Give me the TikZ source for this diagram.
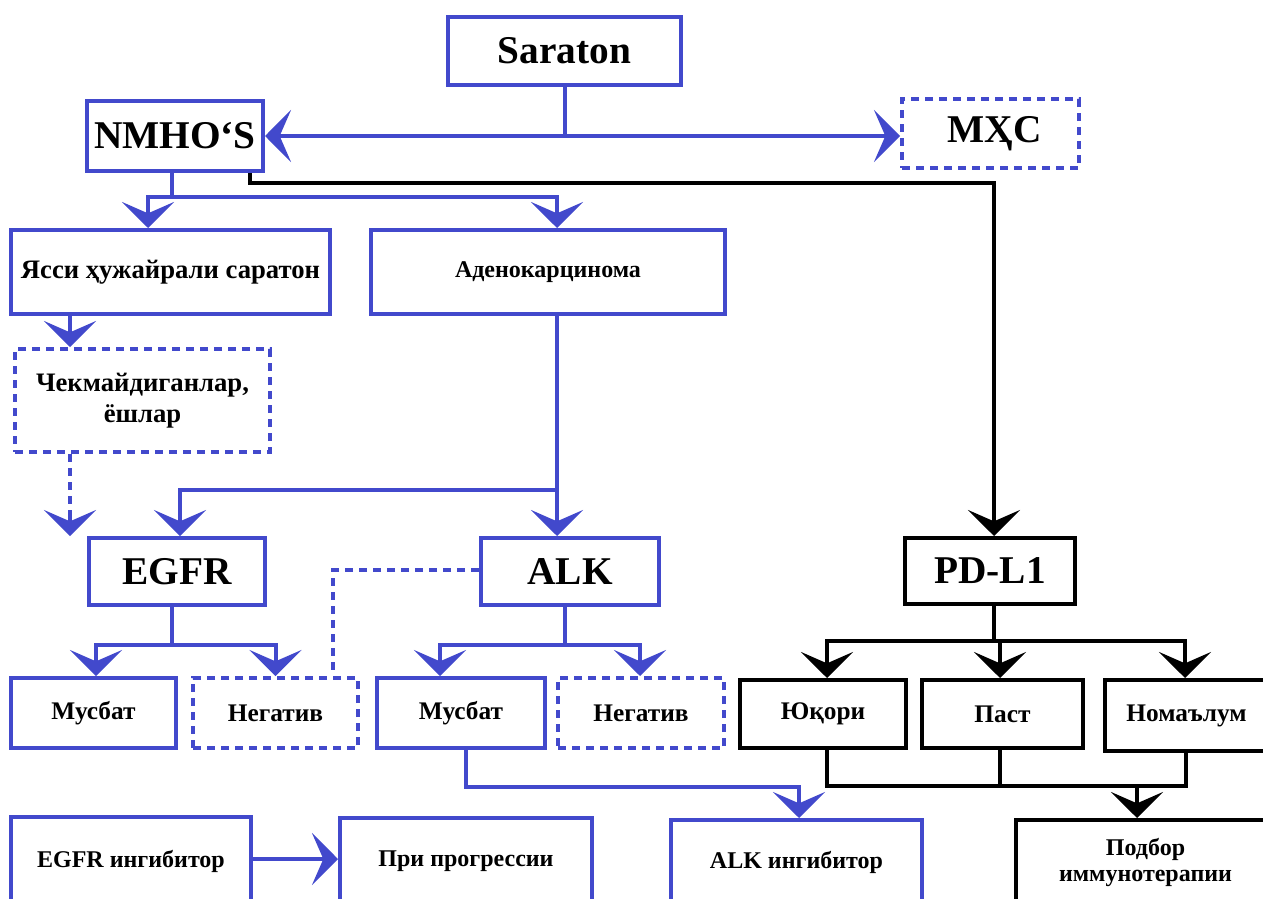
\documentclass[tikz,border=0pt]{standalone}
\usepackage{fontspec}
\setmainfont{Liberation Serif}
\usetikzlibrary{arrows.meta,calc}
\definecolor{bl}{RGB}{66,73,204}
\tikzset{
  box/.style={draw=bl, line width=3pt, inner sep=0pt, align=center, font=\bfseries},
  dbox/.style={box, dash pattern=on 6pt off 4.5pt},
  kbox/.style={box, draw=black},
  tipA/.tip={Stealth[length=19.5pt,width=39pt,inset=8.5pt]},
  arr/.style={draw=bl, line width=3pt, -tipA},
  karr/.style={draw=black, line width=3pt, -tipA},
  lnk/.style={draw=bl, line width=3pt},
  klnk/.style={draw=black, line width=3pt},
  dlnk/.style={draw=bl, line width=3pt, dash pattern=on 6pt off 4.5pt},
  big/.style={font=\bfseries\fontsize{29.5}{34}\selectfont},
  mid/.style={font=\bfseries\fontsize{19}{23}\selectfont},
  sml/.style={font=\bfseries\fontsize{18}{22}\selectfont},
}
\begin{document}
\begin{tikzpicture}[x=0.75pt,y=-0.75pt]
\useasboundingbox (0,0) rectangle (1263,899);
% top level
\node[box,big,minimum width=174.75pt,minimum height=51pt] (sar) at (564.5,51) {Saraton};
\node[box,big,minimum width=132pt,minimum height=52.5pt] (nmh) at (175,136) {NMHO‘S};
\node[dbox,big,minimum width=132.75pt,minimum height=51.75pt] (mxc) at (990.5,133.5) {\hspace*{6pt}МҲС};
% second level
\node[box,font=\bfseries\fontsize{20}{24}\selectfont,minimum width=239.25pt,minimum height=63pt] (yas) at (170.5,272) {Ясси ҳужайрали саратон};
\node[box,sml,minimum width=265.5pt,minimum height=63pt] (ade) at (548,272) {\raisebox{2pt}{Аденокарцинома}};
\node[dbox,font=\bfseries\fontsize{20}{23}\selectfont,minimum width=191.25pt,minimum height=77.25pt] (chk) at (142.5,400.5) {Чекмайдиганлар,\\ёшлар};
% markers
\node[box,big,minimum width=132pt,minimum height=50.25pt] (egfr) at (177,571.5) {EGFR};
\node[box,big,minimum width=133.5pt,minimum height=50.25pt] (alk) at (570,571.5) {ALK};
\node[kbox,big,minimum width=127.5pt,minimum height=49.5pt] (pdl) at (990,571) {PD-L1};
% results
\node[box,mid,minimum width=123.75pt,minimum height=52.5pt] (mus1) at (93.5,713) {Мусбат};
\node[dbox,mid,minimum width=123.75pt,minimum height=52.5pt] (neg1) at (275.5,713) {Негатив};
\node[box,mid,minimum width=126pt,minimum height=52.5pt] (mus2) at (461,713) {Мусбат};
\node[dbox,mid,minimum width=124.5pt,minimum height=52.5pt] (neg2) at (641,713) {Негатив};
\node[kbox,mid,minimum width=124.5pt,minimum height=51pt] (yuq) at (823,714) {Юқори};
\node[kbox,mid,minimum width=120.75pt,minimum height=51pt] (pas) at (1002.5,714) {Паст};
\node[kbox,mid,minimum width=122.25pt,minimum height=53.25pt] (nom) at (1186.5,715.5) {Номаълум};
% bottom
\node[box,sml,minimum width=180pt,minimum height=66pt] (egi) at (131,861) {\raisebox{3pt}{EGFR ингибитор}};
\node[box,sml,minimum width=189pt,minimum height=65.25pt] (pri) at (466,861.5) {\raisebox{3pt}{При прогрессии}};
\node[box,sml,minimum width=188.25pt,minimum height=63.75pt] (alki) at (796.5,862.5) {\raisebox{3pt}{ALK ингибитор}};
\node[kbox,sml,minimum width=194.25pt,minimum height=63.75pt] (pod) at (1145.5,862.5) {\raisebox{4pt}{\begin{tabular}{@{}c@{}}Подбор\\[-2pt]иммунотерапии\end{tabular}}};

% connectors top
\coordinate (j1) at ($(sar.south)+(0,49)$);
\draw[lnk] (sar.south) -- (j1);
\draw[arr] (j1) -- (j1 -| nmh.east);
\draw[arr] (j1) -- (j1 -| mxc.west);
% black to PD-L1
\draw[karr] ($(nmh.south east)+(-15,0)$) -- ++(0,10) -| ($(pdl.north)+(4,0)$);
% NMHOS to types
\coordinate (j2) at ($(nmh.south)+(-3,24)$);
\draw[lnk] ($(nmh.south)+(-3,0)$) -- (j2);
\draw[arr] (j2) -| ($(yas.north)+(-22.5,0)$);
\draw[arr] (j2) -| ($(ade.north)+(9,0)$);
% yassi to chek
\coordinate (a72) at ($(yas.south west)+(61,0)$);
\draw[arr] (a72) -- (a72 |- chk.north);
\draw[dlnk] (a72 |- chk.south) -- ($(a72 |- egfr.north)+(0,-20)$);
\draw[arr] ($(a72 |- egfr.north)+(0,-21)$) -- (a72 |- egfr.north);
% adeno to ALK and EGFR
\coordinate (a557) at ($(ade.south)+(9,0)$);
\draw[arr] (a557) -- (a557 |- alk.north);
\coordinate (j3) at ($(a557)+(0,174)$);
\draw[arr] (j3) -| ($(egfr.north)+(3,0)$);
% dashed ALK to negativ
\draw[dlnk] ($(alk.west)+(0,-1.5)$) -| ($(neg1.north east)+(-27,0)$);
% EGFR results
\coordinate (j4) at ($(egfr.south)+(-5,38)$);
\draw[lnk] ($(egfr.south)+(-5,0)$) -- (j4);
\draw[arr] (j4) -| ($(mus1.north)+(2.5,0)$);
\draw[arr] (j4) -| (neg1.north);
% ALK results
\coordinate (j5) at ($(alk.south)+(-5,38)$);
\draw[lnk] ($(alk.south)+(-5,0)$) -- (j5);
\draw[arr] (j5) -| ($(mus2.north)+(-21,0)$);
\draw[arr] (j5) -| ($(neg2.north)+(-1,0)$);
% mus2 to ALK inhibitor
\draw[arr] ($(mus2.south)+(5,0)$) -- ++(0,37) -| ($(alki.north)+(2.5,0)$);
% PD-L1 results
\coordinate (j6) at ($(pdl.south)+(4,35)$);
\draw[klnk] ($(pdl.south)+(4,0)$) -- (j6);
\draw[karr] (j6) -| ($(yuq.north)+(4,0)$);
\draw[karr] (j6) -| ($(pas.north)+(-2.5,0)$);
\draw[karr] (j6) -| ($(nom.north)+(-1.5,0)$);
% join to Podbor
\coordinate (j7) at ($(yuq.south)+(4,36)$);
\draw[klnk] ($(yuq.south)+(4,0)$) -- (j7) -| ($(nom.south)+(-0.5,0)$);
\draw[klnk] ($(pas.south)+(-2.5,0)$) -- ($(pas.south)+(-2.5,36)$);
\draw[karr] ($(j7 -| pod.north)+(-8.5,0)$) -- ($(pod.north)+(-8.5,0)$);
% EGFR inhibitor to progression
\draw[arr] ($(egi.east)+(0,-2)$) -- ($(pri.west)+(0,-2.5)$);
\end{tikzpicture}
\end{document}
